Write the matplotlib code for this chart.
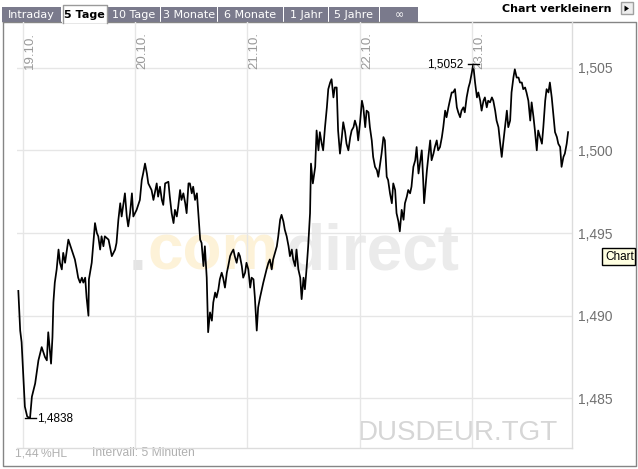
import matplotlib
matplotlib.use('Agg')
import matplotlib.pyplot as plt
from matplotlib.patches import Rectangle, Polygon

# USD/EUR, 5 Tage (hours counted from 19.10. 00:00)
hours = [
    -1.0, -0.6, -0.3, 0.4, 0.9, 1.5, 1.9, 2.6, 3.3, 4.0, 4.7, 5.1, 5.4, 6.0, 6.3, 6.5, 6.8, 7.2, 7.6, 7.9,
    8.3, 8.6, 9.0, 9.7, 10.4, 11.1, 11.5, 11.8, 12.2, 12.6, 12.9, 13.3, 13.6, 14.0, 14.1, 14.7, 15.4, 15.8, 16.1, 16.5,
    16.8, 17.2, 17.5, 18.3, 19.0, 19.7, 20.0, 20.4, 20.8, 21.1, 21.8, 22.2, 22.5, 22.9, 23.3, 23.6, 24.3, 25.0, 25.4, 25.7,
    26.1, 26.5, 26.8, 27.5, 27.9, 28.6, 28.9, 29.3, 29.7, 30.0, 30.4, 31.1, 31.4, 31.8, 32.2, 32.5, 32.9, 33.2, 33.6, 33.9,
    34.3, 34.7, 35.0, 35.4, 35.7, 36.1, 36.4, 36.8, 37.2, 37.5, 37.9, 38.2, 38.6, 38.9, 39.3, 39.6, 40.0, 40.4, 40.7, 41.1,
    41.4, 41.8, 42.1, 42.5, 42.8, 43.2, 43.6, 43.9, 44.3, 44.6, 45.0, 45.3, 45.7, 46.1, 46.4, 46.8, 47.1, 47.5, 47.8, 48.2,
    48.6, 48.9, 49.3, 49.6, 50.0, 50.3, 50.7, 51.4, 52.1, 52.5, 52.8, 53.2, 53.5, 53.9, 54.3, 54.6, 55.0, 55.3, 55.7, 56.0,
    56.4, 56.8, 57.1, 57.5, 57.8, 58.2, 58.5, 58.9, 59.3, 59.6, 60.0, 60.3, 60.7, 61.0, 61.4, 61.6, 62.0, 62.5, 62.8, 63.2,
    63.5, 63.9, 64.2, 64.6, 65.0, 65.3, 65.7, 66.0, 66.4, 66.7, 67.1, 67.4, 67.8, 68.2, 68.5, 68.9, 69.2, 69.6, 70.0, 70.3,
    70.7, 71.0, 71.4, 71.7, 72.1, 72.5, 72.8, 73.2, 73.5, 73.9, 74.2, 74.6, 74.9, 75.3, 75.7, 76.0, 76.4, 76.7, 77.1, 77.4,
    77.8, 78.1, 78.5, 78.9, 79.2, 79.6, 79.9, 80.3, 80.6, 81.0, 81.4, 81.7, 82.1, 82.4, 82.8, 83.1, 83.5, 83.9, 84.2, 84.6,
    84.9, 85.3, 85.6, 85.8, 86.4, 86.7, 87.1, 87.4, 87.8, 88.1, 88.5, 88.8, 89.2, 89.6, 89.9, 90.3, 90.6, 91.0, 91.3, 91.7,
    92.0, 92.4, 92.8, 93.1, 93.5, 93.8, 94.2, 94.5, 94.9, 95.3, 95.6, 96.0, 96.3, 96.7, 97.1, 97.4, 97.8, 98.1, 98.5, 98.8,
    99.2, 99.5, 99.9, 100.3, 100.6, 101.0, 101.3, 101.7, 102.0, 102.4, 102.7, 103.1, 103.5, 103.8, 104.2, 104.5, 104.9, 105.2, 105.6, 106.0,
    106.3, 106.7, 107.0, 107.4, 107.7, 108.1, 108.5, 108.8, 109.2, 109.5, 109.9, 110.2, 110.6, 111.0, 111.3, 111.7, 112.0, 112.4, 112.7, 113.1,
    113.4, 113.8, 114.2, 114.5, 114.9, 115.2, 115.6, 115.9, 116.3, 116.6,
]
prices = [
    1.4915, 1.4891, 1.4884, 1.4845, 1.4839, 1.4838, 1.4851, 1.4859, 1.4873, 1.4881, 1.4875, 1.4873, 1.4890, 1.4871, 1.4887, 1.4908, 1.4920, 1.4928, 1.4940, 1.4932,
    1.4928, 1.4938, 1.4932, 1.4946, 1.4940, 1.4934, 1.4928, 1.4923, 1.4920, 1.4923, 1.4920, 1.4923, 1.4911, 1.4900, 1.4922, 1.4932, 1.4956, 1.4950, 1.4948, 1.4940,
    1.4948, 1.4942, 1.4948, 1.4946, 1.4936, 1.4940, 1.4944, 1.4958, 1.4968, 1.4960, 1.4974, 1.4960, 1.4954, 1.4962, 1.4974, 1.4960, 1.4964, 1.4970, 1.4982, 1.4986,
    1.4992, 1.4986, 1.4980, 1.4976, 1.4970, 1.4980, 1.4972, 1.4978, 1.4970, 1.4967, 1.4980, 1.4981, 1.4972, 1.4962, 1.4956, 1.4964, 1.4960, 1.4966, 1.4976, 1.4970,
    1.4974, 1.4968, 1.4962, 1.4980, 1.4980, 1.4974, 1.4978, 1.4970, 1.4974, 1.4962, 1.4946, 1.4944, 1.4930, 1.4942, 1.4923, 1.4890, 1.4902, 1.4897, 1.4908, 1.4914,
    1.4911, 1.4916, 1.4922, 1.4926, 1.4923, 1.4917, 1.4926, 1.4930, 1.4936, 1.4938, 1.4940, 1.4936, 1.4932, 1.4938, 1.4936, 1.4930, 1.4923, 1.4926, 1.4932, 1.4928,
    1.4917, 1.4923, 1.4922, 1.4911, 1.4891, 1.4905, 1.4911, 1.4920, 1.4928, 1.4932, 1.4934, 1.4928, 1.4934, 1.4938, 1.4942, 1.4948, 1.4958, 1.4961, 1.4957, 1.4952,
    1.4948, 1.4942, 1.4936, 1.4940, 1.4934, 1.4930, 1.4940, 1.4928, 1.4923, 1.4910, 1.4923, 1.4916, 1.4930, 1.4942, 1.4962, 1.4992, 1.4980, 1.4990, 1.5012, 1.5000,
    1.5011, 1.5004, 1.5000, 1.5014, 1.5026, 1.5037, 1.5041, 1.5043, 1.5032, 1.5038, 1.5038, 1.5012, 1.4998, 1.5008, 1.5017, 1.5011, 1.5004, 1.5000, 1.5008, 1.5012,
    1.5014, 1.5018, 1.5014, 1.5006, 1.5017, 1.5030, 1.5026, 1.5014, 1.5024, 1.5023, 1.5014, 1.5006, 1.4996, 1.4990, 1.4988, 1.4984, 1.4992, 1.4998, 1.5008, 1.5006,
    1.4984, 1.4982, 1.4974, 1.4968, 1.4980, 1.4976, 1.4962, 1.4957, 1.4951, 1.4964, 1.4958, 1.4968, 1.4972, 1.4976, 1.4974, 1.4978, 1.4990, 1.4994, 1.5002, 1.4986,
    1.4992, 1.5000, 1.4982, 1.4968, 1.4988, 1.4996, 1.5006, 1.4994, 1.4998, 1.5002, 1.5006, 1.5000, 1.5002, 1.5008, 1.5014, 1.5024, 1.5020, 1.5026, 1.5030, 1.5035,
    1.5035, 1.5037, 1.5026, 1.5023, 1.5020, 1.5024, 1.5026, 1.5023, 1.5032, 1.5038, 1.5041, 1.5047, 1.5052, 1.5041, 1.5032, 1.5035, 1.5030, 1.5024, 1.5030, 1.5032,
    1.5026, 1.5030, 1.5029, 1.5032, 1.5030, 1.5024, 1.5018, 1.5014, 1.5006, 1.4996, 1.5004, 1.5014, 1.5024, 1.5014, 1.5018, 1.5035, 1.5044, 1.5049, 1.5044, 1.5044,
    1.5041, 1.5041, 1.5037, 1.5038, 1.5035, 1.5030, 1.5018, 1.5029, 1.5020, 1.5012, 1.5000, 1.5012, 1.5008, 1.5004, 1.5014, 1.5030, 1.5037, 1.5035, 1.5041, 1.5032,
    1.5023, 1.5011, 1.5008, 1.5004, 1.5002, 1.4990, 1.4996, 1.4998, 1.5004, 1.5011,
]

day_pos = [0, 24, 48, 72, 96]
day_labels = ['19.10.', '20.10.', '21.10.', '22.10.', '23.10.']
y_ticks = [1.485, 1.490, 1.495, 1.500, 1.505]
y_labels = ['1,485', '1,490', '1,495', '1,500', '1,505']
tab_names = ['Intraday', '5 Tage', '10 Tage', '3 Monate', '6 Monate', '1 Jahr', '5 Jahre', '\u221e']
tab_edges = [2, 62, 108, 161, 218, 284, 329, 380, 419]
active_tab = 1

W, H = 638, 469
fig = plt.figure(figsize=(W / 100, H / 100), dpi=100)
fig.patch.set_facecolor('white')

# pixel overlay for frame, tabs and watermark
bg = fig.add_axes([0, 0, 1, 1], zorder=0)
bg.set_xlim(0, W)
bg.set_ylim(H, 0)
bg.axis('off')

frame_c = '#858585'
bg.plot([2.5, 2.5, 635.5, 635.5, 2.5], [22.5, 466.5, 466.5, 22.5, 22.5], color=frame_c, lw=1)

tab_c = '#7a7a8c'
for i, name in enumerate(tab_names):
    x0, x1 = tab_edges[i], tab_edges[i + 1] - 1
    if i == active_tab:
        bg.add_patch(Rectangle((x0, 5), x1 - x0, 18, facecolor='white', edgecolor='none', zorder=3))
        bg.plot([x0 + 0.5, x0 + 0.5, x1 - 0.5, x1 - 0.5], [23, 5.5, 5.5, 23], color='#9a9a9a', lw=1, zorder=4)
        bg.text((x0 + x1) / 2, 14.5, name, ha='center', va='center', fontsize=8, fontweight='bold',
                color='black', family='DejaVu Sans', zorder=5)
    else:
        bg.add_patch(Rectangle((x0, 7.5), x1 - x0, 15, facecolor=tab_c, edgecolor='none', zorder=3))
        bg.text((x0 + x1) / 2, 15.5, name, ha='center', va='center', fontsize=8,
                color='white', family='DejaVu Sans', zorder=5)

bg.text(611, 8.5, 'Chart verkleinern', ha='right', va='center', fontsize=8, fontweight='bold',
        family='DejaVu Sans', color='black')
bg.add_patch(Rectangle((620.5, 2.5), 12, 12, facecolor='#eeeeee', edgecolor='#a0a0a0', lw=1))
bg.add_patch(Polygon([(624.5, 5.5), (624.5, 11.5), (629, 8.5)], closed=True, facecolor='black', edgecolor='none'))

# watermark
bg.text(129, 270, '.', fontsize=46, fontweight='bold', family='Liberation Sans', color='#e4e4e4', va='baseline')
bg.text(148, 270, 'com', fontsize=46, fontweight='bold', family='Liberation Sans', color='#fdf2d8', va='baseline')
bg.text(285, 270, 'direct', fontsize=46, fontweight='bold', family='Liberation Sans', color='#ebebeb', va='baseline')
bg.text(358, 440, 'DUSDEUR.TGT', fontsize=20, family='Liberation Sans', color='#d6d6d6', va='baseline')

# bottom info
bg.text(15, 453, '1,44\u2009%HL', fontsize=8.7, family=['Liberation Sans', 'DejaVu Sans'], color='#b0b0b0', va='center')
bg.text(92, 453, 'Intervall: 5 Minuten', fontsize=8.7, family='Liberation Sans', color='#b0b0b0', va='center')

# tooltip
bg.add_patch(Rectangle((601.5, 248.5), 33, 17, facecolor='#ffffe1', edgecolor='black', lw=1, zorder=6))
bg.text(605, 257.5, 'Chart', fontsize=8.5, family='Liberation Sans', color='black', va='center', zorder=7)

# chart
ax = fig.add_axes([17 / W, 1 - 448 / H, (572 - 17) / W, (448 - 22) / H], zorder=1)
ax.patch.set_alpha(0)
ax.plot(hours, prices, color='black', lw=1.25, zorder=3)
ax.set_xlim((17 - 23) * 24 / 112.2, (572 - 23) * 24 / 112.2)
ax.set_ylim(1.48200, 1.50776)

ax.set_xticks(day_pos)
ax.set_xticklabels([])
ax.set_yticks(y_ticks)
ax.set_yticklabels(y_labels)
ax.yaxis.tick_right()
ax.tick_params(axis='both', length=0)
ax.tick_params(axis='y', pad=4, labelsize=10, labelcolor='#707070')
for lab in ax.get_yticklabels():
    lab.set_family('Liberation Sans')
ax.grid(True, color='#e6e6e6', lw=1)
ax.set_axisbelow(True)
for side in ['left', 'top']:
    ax.spines[side].set_visible(False)
for side in ['right', 'bottom']:
    ax.spines[side].set_color('#dcdcdc')
    ax.spines[side].set_linewidth(1)

for d, lab in zip(day_pos, day_labels):
    ax.text(d + 0.3, 0.977, lab, transform=ax.get_xaxis_transform(), rotation=90,
            ha='left', va='top', fontsize=9.5, family='Liberation Sans', color='#999999')

# min / max markers
i_min = prices.index(min(prices))
i_max = prices.index(max(prices))
half = 5.5 * 24 / 112.2
for i, side in [(i_min, 'right'), (i_max, 'left')]:
    t, p = hours[i], prices[i]
    ax.plot([t - half, t + half], [p, p], color='black', lw=1, zorder=4)
    txt = ('%.4f' % p).replace('.', ',')
    if side == 'right':
        ax.annotate(txt, (t + half, p), xytext=(1, 0), textcoords='offset points',
                    ha='left', va='center', fontsize=8.5, family='Liberation Sans')
    else:
        ax.annotate(txt, (t - half, p), xytext=(-3, 0), textcoords='offset points',
                    ha='right', va='center', fontsize=8.5, family='Liberation Sans')

fig.savefig('out.png', dpi=100)
